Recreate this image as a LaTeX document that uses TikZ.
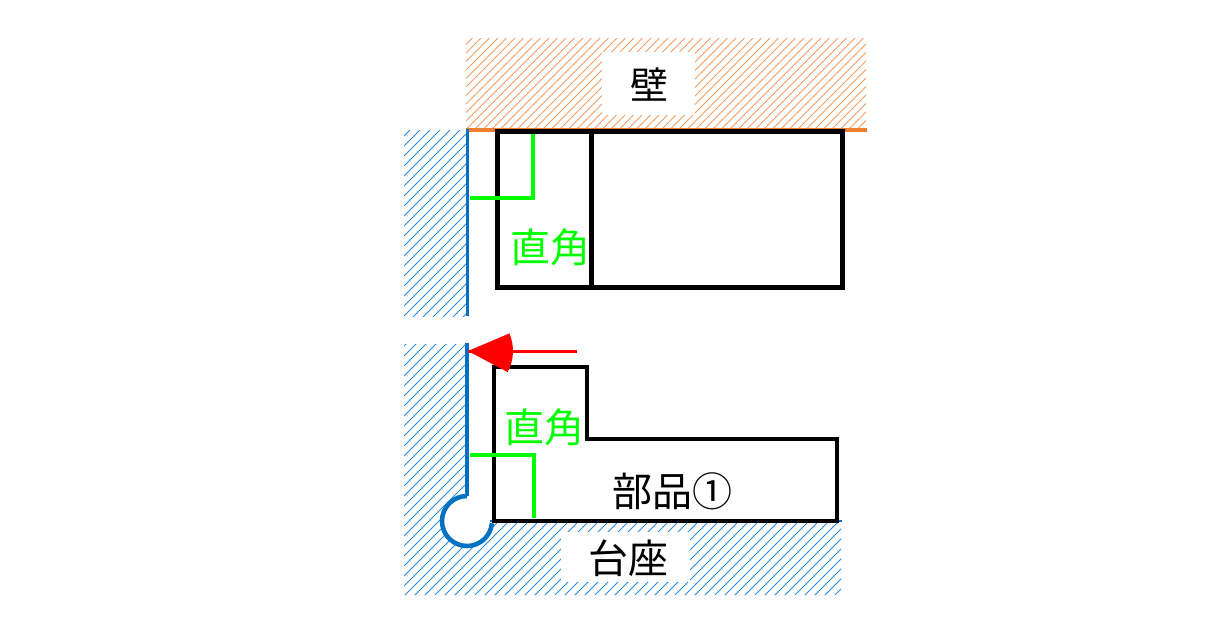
\documentclass[tikz,border=0pt]{standalone}
\usepackage{fontspec}
\setmainfont{Noto Sans CJK JP}
\definecolor{wallorange}{RGB}{237,125,49}
\definecolor{baseblue}{RGB}{0,112,192}
\definecolor{hatchblue}{RGB}{40,140,225}
\definecolor{rightgreen}{RGB}{0,255,0}
\tikzset{
  hatchline/.style={line width=1pt},
  label/.style={font=\fontsize{40}{40}\selectfont, inner sep=0pt},
  part/.style={black, line width=5pt, line join=miter},
  rightmark/.style={rightgreen, line width=3.5pt},
}
\begin{document}
\begin{tikzpicture}[x=1pt,y=-1pt]
\useasboundingbox (0,0) rectangle (1229,638);
% wall
\begin{scope}
\clip (466,38) rectangle (866,130);
\foreach \k in {0,8.5,...,520}
  \draw[wallorange!75, hatchline] (\k+350,135)--(\k+460,25);
\end{scope}
\fill[white] (602,52) rectangle (695,115);
\node[label, font=\fontsize{38}{38}\selectfont] (wall) at (649,85) {壁};
\draw[wallorange, line width=4pt] (466,130)--(867,130);
% upper guide
\begin{scope}
\clip (404,130) rectangle (467,316);
\foreach \k in {0,10,...,260}
  \draw[hatchblue, hatchline] (\k+200,320)--(\k+400,120);
\end{scope}
\draw[baseblue, line width=3pt] (467,129)--(467,316);
% upper part
\draw[part] (497,131) rectangle (842,287);
\draw[part, line width=4.5pt] (591.5,131)--(591.5,287);
\draw[rightmark] (533,134)--(533,198)--(470,198);
\node[label, rightgreen] (upperangle) at (550,247) {直角};
% base
\begin{scope}
\clip (404,344)--(467,344)--(467,496) arc[start angle=-90, end angle=-360, radius=25]
  --(841,521)--(841,595)--(404,595)--cycle;
\foreach \k in {0,10,...,700}
  \draw[hatchblue, hatchline] (\k+140,600)--(\k+410,330);
\end{scope}
\fill[white] (561,532) rectangle (690,582);
\node[label] (base) at (628,558) {台座};
\draw[baseblue, line width=4.5pt] (467,343)--(467,496);
\draw[baseblue, line width=4.5pt] (467,496) arc[start angle=-90, end angle=-355, radius=25];
\draw[baseblue, line width=2pt] (490,521)--(842,521);
% lower part
\draw[part, line width=4.5pt] (494,521)--(494,367)--(587,367)--(587,439)--(837,439)--(837,521)--cycle;
\draw[rightmark] (470,455)--(534,455)--(534,518);
\node[label, rightgreen] (lowerangle) at (544,427) {直角};
\node[label] (partname) at (672,491) {部品①};
% push direction
\coordinate (tip) at (468,351);
\coordinate (tail) at (577,351);
\draw[red, line width=3pt] (tail)--(tip);
\fill[red] (tip)--(509.4,333.4) arc[start angle=-23, end angle=28, radius=45]--cycle;
\end{tikzpicture}
\end{document}
